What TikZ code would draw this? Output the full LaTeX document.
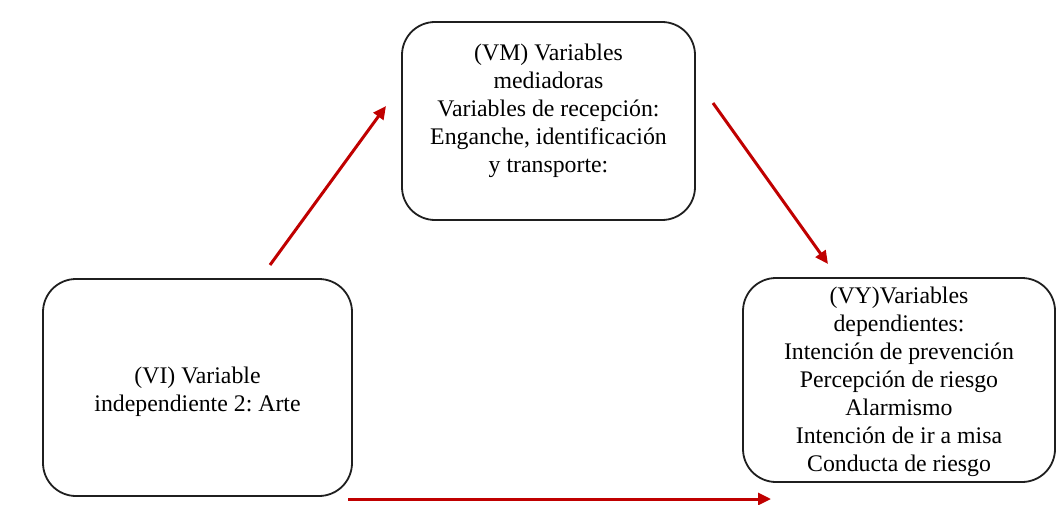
\documentclass[tikz,border=0pt]{standalone}
\usepackage{fontspec}
\setmainfont{Liberation Serif}
\usetikzlibrary{arrows.meta}
\definecolor{arrowred}{HTML}{C00000}
\frenchspacing
\begin{document}
\begin{tikzpicture}[x=1pt,y=-1pt,
  varbox/.style={draw=black!88, line width=1.8pt, rounded corners=33pt, inner sep=0pt, fill=white},
  vartext/.style={inner sep=0pt, align=center, anchor=north, font=\fontsize{23.8}{28}\selectfont},
  flow/.style={draw=arrowred, line width=3pt, -{Triangle[length=13pt,width=12pt]}}]
  \useasboundingbox[fill=white] (0,0) rectangle (1064,505);

  % boxes
  \node[varbox, minimum width=293pt, minimum height=198pt] (vm) at (548.5,121) {};
  \node[varbox, minimum width=309pt, minimum height=217pt] (vi) at (197.5,387.5) {};
  \node[varbox, minimum width=312pt, minimum height=204pt] (vy) at (899,380) {};

  % box texts
  \node[vartext] (vmt) at (548.5,43.4) {(VM) Variables\\ mediadoras\\ Variables de recepción:\\ Enganche, identificación\\ y transporte:};
  \node[vartext] (vit) at (197.5,366.4) {(VI) Variable\\ independiente 2: Arte};
  \node[vartext] (vyt) at (899,286.4) {(VY)Variables\\ dependientes:\\ Intención de prevención\\ Percepción de riesgo\\ Alarmismo\\ Intención de ir a misa\\ Conducta de riesgo};

  % arrow end points
  \coordinate (a1s) at (270,265);
  \coordinate (a1e) at (386,106);
  \coordinate (a2s) at (713,103);
  \coordinate (a2e) at (828,264);
  \coordinate (a3s) at (348,499);
  \coordinate (a3e) at (771,499);

  \draw[flow] (a1s) -- (a1e);
  \draw[flow] (a2s) -- (a2e);
  \draw[flow] (a3s) -- (a3e);
\end{tikzpicture}
\end{document}
